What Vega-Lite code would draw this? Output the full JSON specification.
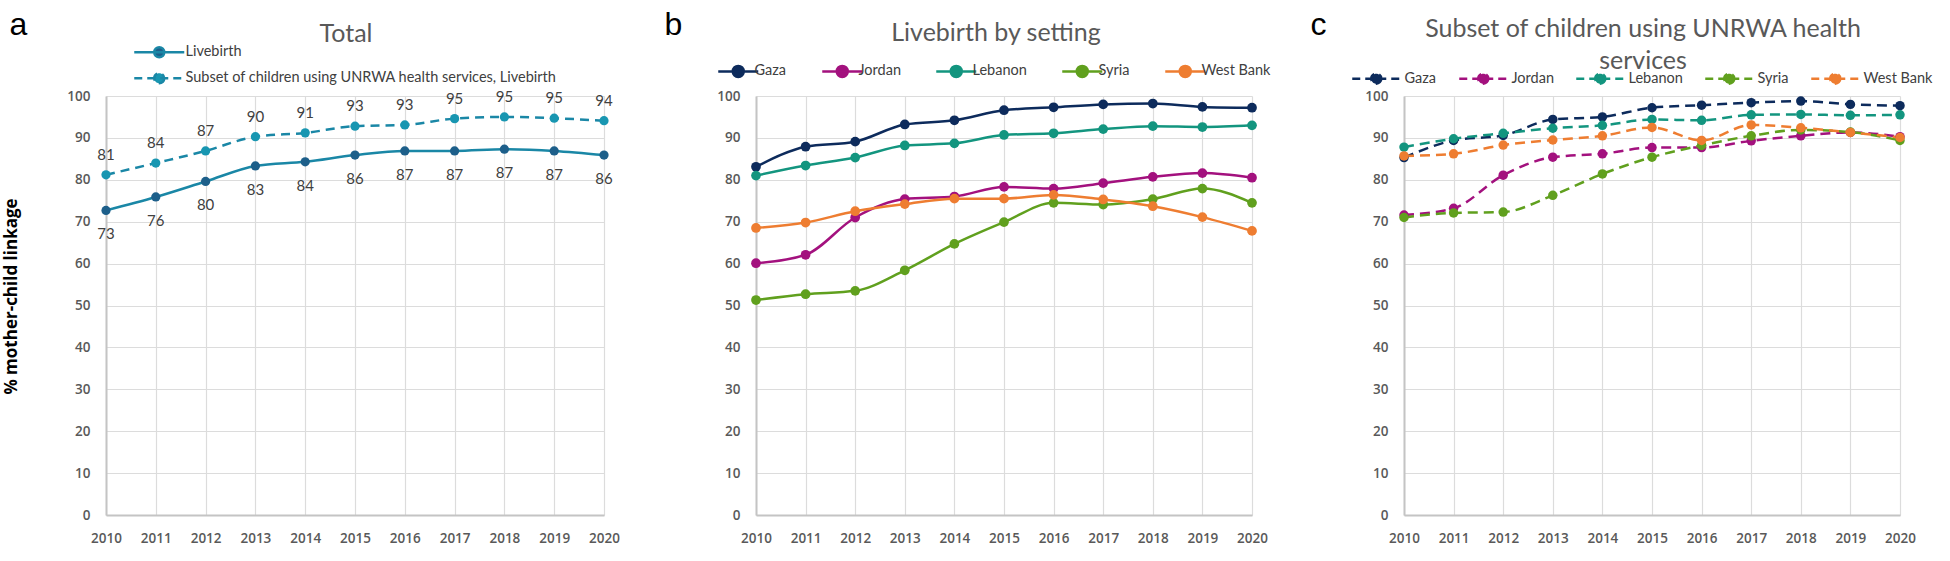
{
  "$schema": "https://vega.github.io/schema/vega-lite/v6.json",
  "description": "Mother-child linkage, UNRWA, 2010-2020",
  "background": "white",
  "padding": {"left": 2, "top": 8, "right": 5, "bottom": 5},
  "datasets": {
    "total": [
      {"year": 2010, "series": "Livebirth", "value": 72.7},
      {"year": 2011, "series": "Livebirth", "value": 75.9},
      {"year": 2012, "series": "Livebirth", "value": 79.6},
      {"year": 2013, "series": "Livebirth", "value": 83.3},
      {"year": 2014, "series": "Livebirth", "value": 84.3},
      {"year": 2015, "series": "Livebirth", "value": 85.9},
      {"year": 2016, "series": "Livebirth", "value": 86.9},
      {"year": 2017, "series": "Livebirth", "value": 86.9},
      {"year": 2018, "series": "Livebirth", "value": 87.3},
      {"year": 2019, "series": "Livebirth", "value": 86.9},
      {"year": 2020, "series": "Livebirth", "value": 85.9},
      {"year": 2010, "series": "Subset of children using UNRWA health services, Livebirth", "value": 81.2},
      {"year": 2011, "series": "Subset of children using UNRWA health services, Livebirth", "value": 84.0},
      {"year": 2012, "series": "Subset of children using UNRWA health services, Livebirth", "value": 86.9},
      {"year": 2013, "series": "Subset of children using UNRWA health services, Livebirth", "value": 90.3},
      {"year": 2014, "series": "Subset of children using UNRWA health services, Livebirth", "value": 91.2},
      {"year": 2015, "series": "Subset of children using UNRWA health services, Livebirth", "value": 92.8},
      {"year": 2016, "series": "Subset of children using UNRWA health services, Livebirth", "value": 93.1},
      {"year": 2017, "series": "Subset of children using UNRWA health services, Livebirth", "value": 94.6},
      {"year": 2018, "series": "Subset of children using UNRWA health services, Livebirth", "value": 95.0},
      {"year": 2019, "series": "Subset of children using UNRWA health services, Livebirth", "value": 94.7},
      {"year": 2020, "series": "Subset of children using UNRWA health services, Livebirth", "value": 94.1}
    ],
    "setting": [
      {"year": 2010, "series": "Gaza", "value": 83.1},
      {"year": 2011, "series": "Gaza", "value": 87.9},
      {"year": 2012, "series": "Gaza", "value": 89.1},
      {"year": 2013, "series": "Gaza", "value": 93.2},
      {"year": 2014, "series": "Gaza", "value": 94.2},
      {"year": 2015, "series": "Gaza", "value": 96.6},
      {"year": 2016, "series": "Gaza", "value": 97.3},
      {"year": 2017, "series": "Gaza", "value": 98.0},
      {"year": 2018, "series": "Gaza", "value": 98.2},
      {"year": 2019, "series": "Gaza", "value": 97.4},
      {"year": 2020, "series": "Gaza", "value": 97.2},
      {"year": 2010, "series": "Jordan", "value": 60.1},
      {"year": 2011, "series": "Jordan", "value": 62.1},
      {"year": 2012, "series": "Jordan", "value": 71.0},
      {"year": 2013, "series": "Jordan", "value": 75.4},
      {"year": 2014, "series": "Jordan", "value": 76.0},
      {"year": 2015, "series": "Jordan", "value": 78.3},
      {"year": 2016, "series": "Jordan", "value": 77.9},
      {"year": 2017, "series": "Jordan", "value": 79.2},
      {"year": 2018, "series": "Jordan", "value": 80.7},
      {"year": 2019, "series": "Jordan", "value": 81.6},
      {"year": 2020, "series": "Jordan", "value": 80.5},
      {"year": 2010, "series": "Lebanon", "value": 81.0},
      {"year": 2011, "series": "Lebanon", "value": 83.4},
      {"year": 2012, "series": "Lebanon", "value": 85.3},
      {"year": 2013, "series": "Lebanon", "value": 88.2},
      {"year": 2014, "series": "Lebanon", "value": 88.7},
      {"year": 2015, "series": "Lebanon", "value": 90.7},
      {"year": 2016, "series": "Lebanon", "value": 91.1},
      {"year": 2017, "series": "Lebanon", "value": 92.1},
      {"year": 2018, "series": "Lebanon", "value": 92.8},
      {"year": 2019, "series": "Lebanon", "value": 92.6},
      {"year": 2020, "series": "Lebanon", "value": 93.0},
      {"year": 2010, "series": "Syria", "value": 51.3},
      {"year": 2011, "series": "Syria", "value": 52.7},
      {"year": 2012, "series": "Syria", "value": 53.5},
      {"year": 2013, "series": "Syria", "value": 58.4},
      {"year": 2014, "series": "Syria", "value": 64.7},
      {"year": 2015, "series": "Syria", "value": 69.9},
      {"year": 2016, "series": "Syria", "value": 74.5},
      {"year": 2017, "series": "Syria", "value": 74.1},
      {"year": 2018, "series": "Syria", "value": 75.4},
      {"year": 2019, "series": "Syria", "value": 77.9},
      {"year": 2020, "series": "Syria", "value": 74.5},
      {"year": 2010, "series": "West Bank", "value": 68.5},
      {"year": 2011, "series": "West Bank", "value": 69.8},
      {"year": 2012, "series": "West Bank", "value": 72.5},
      {"year": 2013, "series": "West Bank", "value": 74.2},
      {"year": 2014, "series": "West Bank", "value": 75.5},
      {"year": 2015, "series": "West Bank", "value": 75.5},
      {"year": 2016, "series": "West Bank", "value": 76.4},
      {"year": 2017, "series": "West Bank", "value": 75.3},
      {"year": 2018, "series": "West Bank", "value": 73.7},
      {"year": 2019, "series": "West Bank", "value": 71.1},
      {"year": 2020, "series": "West Bank", "value": 67.8}
    ],
    "unrwa": [
      {"year": 2010, "series": "Gaza", "value": 85.3},
      {"year": 2011, "series": "Gaza", "value": 89.4},
      {"year": 2012, "series": "Gaza", "value": 90.6},
      {"year": 2013, "series": "Gaza", "value": 94.4},
      {"year": 2014, "series": "Gaza", "value": 95.0},
      {"year": 2015, "series": "Gaza", "value": 97.2},
      {"year": 2016, "series": "Gaza", "value": 97.8},
      {"year": 2017, "series": "Gaza", "value": 98.4},
      {"year": 2018, "series": "Gaza", "value": 98.8},
      {"year": 2019, "series": "Gaza", "value": 98.0},
      {"year": 2020, "series": "Gaza", "value": 97.7},
      {"year": 2010, "series": "Jordan", "value": 71.6},
      {"year": 2011, "series": "Jordan", "value": 73.2},
      {"year": 2012, "series": "Jordan", "value": 81.1},
      {"year": 2013, "series": "Jordan", "value": 85.4},
      {"year": 2014, "series": "Jordan", "value": 86.2},
      {"year": 2015, "series": "Jordan", "value": 87.7},
      {"year": 2016, "series": "Jordan", "value": 87.7},
      {"year": 2017, "series": "Jordan", "value": 89.3},
      {"year": 2018, "series": "Jordan", "value": 90.5},
      {"year": 2019, "series": "Jordan", "value": 91.3},
      {"year": 2020, "series": "Jordan", "value": 90.3},
      {"year": 2010, "series": "Lebanon", "value": 87.8},
      {"year": 2011, "series": "Lebanon", "value": 89.8},
      {"year": 2012, "series": "Lebanon", "value": 91.1},
      {"year": 2013, "series": "Lebanon", "value": 92.3},
      {"year": 2014, "series": "Lebanon", "value": 93.0},
      {"year": 2015, "series": "Lebanon", "value": 94.4},
      {"year": 2016, "series": "Lebanon", "value": 94.2},
      {"year": 2017, "series": "Lebanon", "value": 95.5},
      {"year": 2018, "series": "Lebanon", "value": 95.6},
      {"year": 2019, "series": "Lebanon", "value": 95.4},
      {"year": 2020, "series": "Lebanon", "value": 95.5},
      {"year": 2010, "series": "Syria", "value": 71.0},
      {"year": 2011, "series": "Syria", "value": 72.1},
      {"year": 2012, "series": "Syria", "value": 72.3},
      {"year": 2013, "series": "Syria", "value": 76.3},
      {"year": 2014, "series": "Syria", "value": 81.4},
      {"year": 2015, "series": "Syria", "value": 85.4},
      {"year": 2016, "series": "Syria", "value": 88.2},
      {"year": 2017, "series": "Syria", "value": 90.5},
      {"year": 2018, "series": "Syria", "value": 91.9},
      {"year": 2019, "series": "Syria", "value": 91.4},
      {"year": 2020, "series": "Syria", "value": 89.4},
      {"year": 2010, "series": "West Bank", "value": 85.7},
      {"year": 2011, "series": "West Bank", "value": 86.2},
      {"year": 2012, "series": "West Bank", "value": 88.3},
      {"year": 2013, "series": "West Bank", "value": 89.5},
      {"year": 2014, "series": "West Bank", "value": 90.5},
      {"year": 2015, "series": "West Bank", "value": 92.5},
      {"year": 2016, "series": "West Bank", "value": 89.4},
      {"year": 2017, "series": "West Bank", "value": 93.1},
      {"year": 2018, "series": "West Bank", "value": 92.4},
      {"year": 2019, "series": "West Bank", "value": 91.3},
      {"year": 2020, "series": "West Bank", "value": 90.1}
    ]
  },
  "spacing": 152,
  "bounds": "flush",
  "resolve": {"scale": {"color": "independent"}, "legend": {"color": "independent"}},
  "hconcat": [
    {
      "width": 498,
      "height": 419,
      "data": {"name": "total"},
      "title": {"text": "Total", "anchor": "middle", "frame": "group", "dx": -9, "offset": -59, "baseline": "alphabetic", "font": "Lato", "fontSize": 25, "fontWeight": "normal", "color": "#595959"},
      "resolve": {"scale": {"color": "independent"}},
      "layer": [
        {
          "transform": [{"filter": "datum.series == 'Livebirth'"}],
          "mark": {"type": "line", "interpolate": "monotone", "strokeWidth": 2.5},
          "encoding": {
            "x": {"field": "year", "type": "ordinal", "scale": {"type": "point", "padding": 0}, "axis": {"orient": "bottom", "title": null, "grid": true, "labelAngle": 0}},
            "y": {"field": "value", "type": "quantitative", "scale": {"domain": [0, 100], "nice": false}, "axis": {"values": [0, 10, 20, 30, 40, 50, 60, 70, 80, 90, 100], "title": "% mother-child linkage", "titleX": -95, "titleY": 200, "titleAngle": -90, "titleAlign": "center", "titleBaseline": "middle", "titleFont": "Open Sans", "titleFontWeight": "bold", "titleFontSize": 17, "titleColor": "black"}},
            "color": {"field": "series", "type": "nominal", "scale": {"range": ["#1a87a6"]}, "legend": {"orient": "none", "legendX": 26, "legendY": -51, "title": null, "symbolType": "M-5,0H5M1,0A1,1,0,1,1,-1,0A1,1,0,1,1,1,0Z", "symbolSize": 100, "symbolStrokeWidth": 2.5, "symbolFillColor": "#1d5f8a", "symbolOffset": 20, "labelOffset": 19, "labelFont": "Lato", "labelFontSize": 14.5, "labelColor": "#404040", "labelLimit": 600}}
          }
        },
        {
          "transform": [{"filter": "datum.series != 'Livebirth'"}],
          "mark": {"type": "line", "interpolate": "monotone", "strokeWidth": 2.5, "strokeDash": [9, 6]},
          "encoding": {
            "x": {"field": "year", "type": "ordinal", "axis": null},
            "y": {"field": "value", "type": "quantitative"},
            "color": {"field": "series", "type": "nominal", "scale": {"range": ["#1a87a6"]}, "legend": {"orient": "none", "legendX": 26, "legendY": -25, "title": null, "symbolType": "M-5,0H5M1,0A1,1,0,1,1,-1,0A1,1,0,1,1,1,0Z", "symbolSize": 100, "symbolStrokeWidth": 2.5, "symbolDash": [8, 5], "symbolFillColor": "#1896b1", "symbolOffset": 20, "labelOffset": 19, "labelFont": "Lato", "labelFontSize": 14.5, "labelColor": "#404040", "labelLimit": 600}}
          }
        },
        {
          "transform": [{"filter": "datum.series == 'Livebirth'"}],
          "mark": {"type": "point", "filled": true, "size": 85, "opacity": 1, "color": "#1d5f8a"},
          "encoding": {
            "x": {"field": "year", "type": "ordinal", "axis": null},
            "y": {"field": "value", "type": "quantitative"}
          }
        },
        {
          "transform": [{"filter": "datum.series != 'Livebirth'"}],
          "mark": {"type": "point", "filled": true, "size": 85, "opacity": 1, "color": "#1896b1"},
          "encoding": {
            "x": {"field": "year", "type": "ordinal", "axis": null},
            "y": {"field": "value", "type": "quantitative"}
          }
        },
        {
          "transform": [{"filter": "datum.series == 'Livebirth'"}],
          "mark": {"type": "text", "dy": 24, "font": "Lato", "fontSize": 15, "color": "#404040"},
          "encoding": {
            "x": {"field": "year", "type": "ordinal", "axis": null},
            "y": {"field": "value", "type": "quantitative"},
            "text": {"field": "value", "type": "quantitative", "format": ".0f"}
          }
        },
        {
          "transform": [{"filter": "datum.series != 'Livebirth'"}],
          "mark": {"type": "text", "dy": -20, "font": "Lato", "fontSize": 15, "color": "#404040"},
          "encoding": {
            "x": {"field": "year", "type": "ordinal", "axis": {"orient": "top", "labels": false, "ticks": false, "domain": false, "grid": false, "title": "a", "titleX": -97, "titleY": -62, "titleAngle": 0, "titleAlign": "left", "titleBaseline": "alphabetic", "titleFont": "Liberation Sans", "titleFontSize": 32, "titleFontWeight": "normal", "titleColor": "black"}},
            "y": {"field": "value", "type": "quantitative"},
            "text": {"field": "value", "type": "quantitative", "format": ".0f"}
          }
        }
      ]
    },
    {
      "width": 496,
      "height": 419,
      "data": {"name": "setting"},
      "title": {"text": "Livebirth by setting", "anchor": "middle", "frame": "group", "dx": -8, "offset": -58, "baseline": "alphabetic", "font": "Lato", "fontSize": 25, "fontWeight": "normal", "color": "#595959"},
      "layer": [
        {
          "mark": {"type": "line", "interpolate": "monotone", "strokeWidth": 2.5},
          "encoding": {
            "x": {"field": "year", "type": "ordinal", "scale": {"type": "point", "padding": 0}, "axis": {"orient": "bottom", "title": null, "grid": true, "labelAngle": 0}},
            "y": {"field": "value", "type": "quantitative", "scale": {"domain": [0, 100], "nice": false}, "axis": {"values": [0, 10, 20, 30, 40, 50, 60, 70, 80, 90, 100], "title": null}},
            "color": {"field": "series", "type": "nominal", "scale": {"domain": ["Gaza", "Jordan", "Lebanon", "Syria", "West Bank"], "range": ["#0d2b5c", "#a3117e", "#13957f", "#60a01e", "#ee7d31"]}, "legend": {"orient": "none", "direction": "horizontal", "legendX": -40, "legendY": -32, "title": null, "symbolType": "M-4,0H4M1.1,0A1.1,1.1,0,1,1,-1.1,0A1.1,1.1,0,1,1,1.1,0Z", "symbolSize": 100, "symbolStrokeWidth": 2.5, "symbolOffset": 15, "labelOffset": 9, "columnPadding": 30, "labelFont": "Lato", "labelFontSize": 14.5, "labelColor": "#404040"}}
          }
        },
        {
          "mark": {"type": "point", "filled": true, "size": 95, "opacity": 1},
          "encoding": {
            "x": {"field": "year", "type": "ordinal", "axis": {"orient": "top", "labels": false, "ticks": false, "domain": false, "grid": false, "title": "b", "titleX": -92, "titleY": -62, "titleAngle": 0, "titleAlign": "left", "titleBaseline": "alphabetic", "titleFont": "Liberation Sans", "titleFontSize": 32, "titleFontWeight": "normal", "titleColor": "black"}},
            "y": {"field": "value", "type": "quantitative"},
            "color": {"field": "series", "type": "nominal"}
          }
        }
      ]
    },
    {
      "width": 496,
      "height": 419,
      "data": {"name": "unrwa"},
      "title": {"text": ["Subset of children using UNRWA health", "services"], "lineHeight": 32, "anchor": "middle", "frame": "group", "dx": -9, "offset": -86, "baseline": "alphabetic", "font": "Lato", "fontSize": 25, "fontWeight": "normal", "color": "#595959"},
      "layer": [
        {
          "mark": {"type": "line", "interpolate": "monotone", "strokeWidth": 2.5, "strokeDash": [10, 6]},
          "encoding": {
            "x": {"field": "year", "type": "ordinal", "scale": {"type": "point", "padding": 0}, "axis": {"orient": "bottom", "title": null, "grid": true, "labelAngle": 0}},
            "y": {"field": "value", "type": "quantitative", "scale": {"domain": [0, 100], "nice": false}, "axis": {"values": [0, 10, 20, 30, 40, 50, 60, 70, 80, 90, 100], "title": null}},
            "color": {"field": "series", "type": "nominal", "scale": {"domain": ["Gaza", "Jordan", "Lebanon", "Syria", "West Bank"], "range": ["#0d2b5c", "#a3117e", "#13957f", "#60a01e", "#ee7d31"]}, "legend": {"orient": "none", "direction": "horizontal", "legendX": -54, "legendY": -25, "title": null, "symbolType": "M-4.8,0H4.8M1,0A1,1,0,1,1,-1,0A1,1,0,1,1,1,0Z", "symbolSize": 100, "symbolStrokeWidth": 2.5, "symbolDash": [8, 5], "symbolOffset": 19, "labelOffset": 21, "columnPadding": 17, "labelFont": "Lato", "labelFontSize": 14.5, "labelColor": "#404040"}}
          }
        },
        {
          "mark": {"type": "point", "filled": true, "size": 90, "opacity": 1},
          "encoding": {
            "x": {"field": "year", "type": "ordinal", "axis": {"orient": "top", "labels": false, "ticks": false, "domain": false, "grid": false, "title": "c", "titleX": -94, "titleY": -62, "titleAngle": 0, "titleAlign": "left", "titleBaseline": "alphabetic", "titleFont": "Liberation Sans", "titleFontSize": 32, "titleFontWeight": "normal", "titleColor": "black"}},
            "y": {"field": "value", "type": "quantitative"},
            "color": {"field": "series", "type": "nominal"}
          }
        }
      ]
    }
  ],
  "config": {
    "font": "Lato",
    "view": {"stroke": null},
    "axis": {
      "ticks": false,
      "tickSize": 0,
      "labelFont": "Open Sans",
      "labelFontSize": 13.5,
      "labelFontWeight": 600,
      "labelColor": "#595959",
      "labelPadding": 16,
      "gridColor": "#dcdcdc",
      "gridWidth": 1.2,
      "domainColor": "#c4c4c4",
      "domainWidth": 2
    }
  }
}
